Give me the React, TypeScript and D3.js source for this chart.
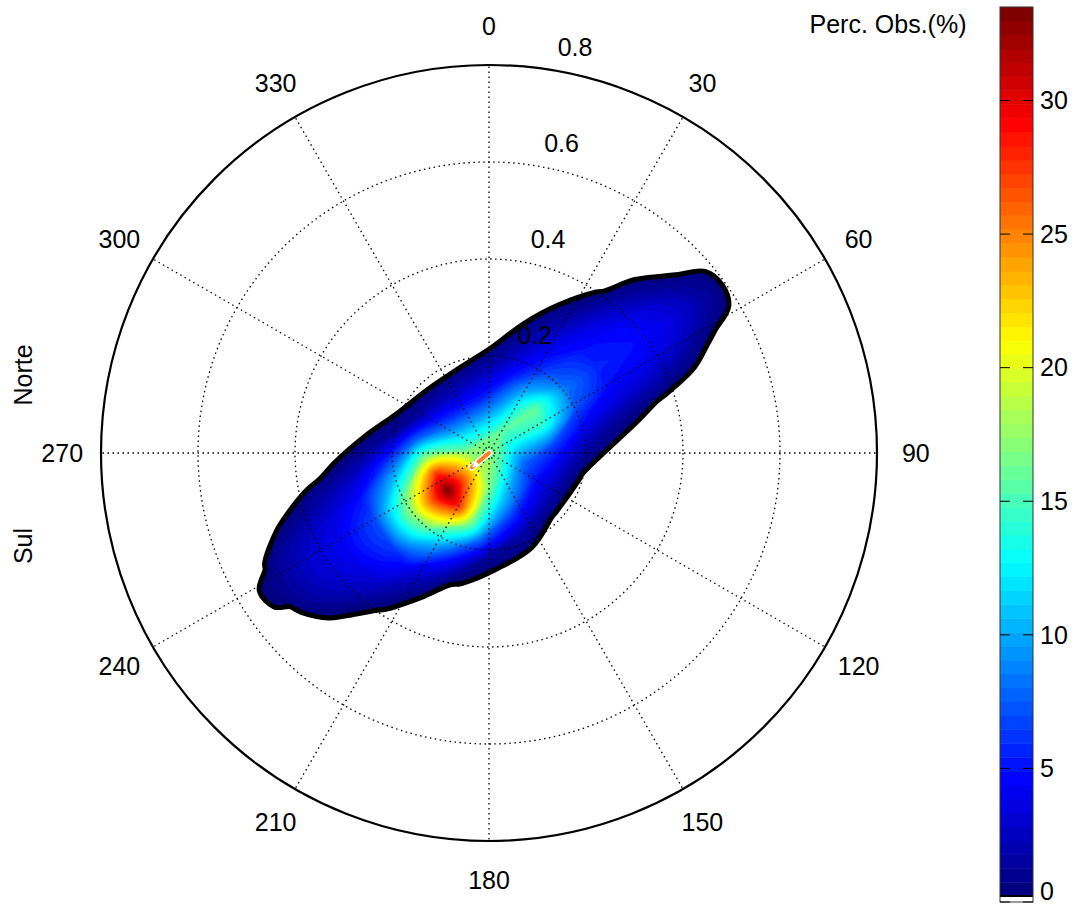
import React, { useEffect, useRef } from "react";
import * as d3 from "d3";

const width = 1079;
const height = 909;
const center = { x: 489, y: 453 };
const outerRadius = 388;
const font = "'Liberation Sans', Arial, sans-serif";
const rad = Math.PI / 180;

const rTicks = [0.2, 0.4, 0.6, 0.8];
const angleTicks = [0, 30, 60, 90, 120, 150, 180, 210, 240, 270, 300, 330];
const colorTicks = [0, 5, 10, 15, 20, 25, 30];
const colorMax = 33.5;
const colorMin = 0.22; // below this the colorbar is white

// density grid (% of obs.), u runs along the main axis of the cloud, v across it (r units)
const gridOrigin = { r: 0.115, theta: 228 }; // node u=0, v=0 sits on the main peak
const gridBearing = 56.5;
const uNodes = [-0.48, -0.4, -0.32, -0.24, -0.16, -0.08, 0, 0.08, 0.16, 0.24, 0.32, 0.4, 0.48, 0.56, 0.64, 0.72];
const vNodes = [-0.2, -0.16, -0.12, -0.08, -0.04, 0, 0.04, 0.08, 0.12, 0.16, 0.2];
const density = [
  [0, 0, 0, 0, 0, 0, 0, 0, 0, 0, 0, 0, 0, 0, 0, 0],
  [0, 0, 0, 0, 0, 0.7, 1.5, 1.8, 0.26, 0, 0, 0, 0, 0, 0, 0],
  [0, 0, 0, 0.65, 2.1, 5.0, 8.3, 6.1, 2.7, 0.57, 0, 0, 0, 0, 0, 0],
  [0, 0, 0.75, 2.5, 4.6, 10.3, 17.4, 11.2, 5.3, 3.3, 1.5, 0.75, 0.43, 0, 0, 0],
  [0, 0.15, 2.2, 3.6, 6.2, 15.8, 27.9, 16.4, 8.0, 6.8, 4.4, 3.3, 2.6, 1.4, 0, 0],
  [0, 0.75, 2.8, 4.2, 6.9, 18.4, 33.5, 19.2, 12.8, 13.8, 7.2, 4.9, 4.3, 3.3, 1.3, 0],
  [0, 0.85, 2.8, 4.1, 6.6, 16.0, 27.9, 17.2, 15.8, 16.0, 8.3, 5.6, 5.0, 3.9, 2.1, 0],
  [0, 0.35, 2.1, 3.3, 5.2, 10.6, 17.3, 11.6, 10.4, 10.4, 6.8, 5.1, 4.5, 3.2, 1.25, 0],
  [0, 0, 0.65, 1.8, 3.1, 5.6, 8.2, 6.3, 5.5, 5.4, 4.6, 3.9, 2.9, 1.3, 0, 0],
  [0, 0, 0, 0.35, 0.7, 1.1, 1.3, 2.2, 2.4, 2.1, 2.3, 1.6, 0.6, 0, 0, 0],
  [0, 0, 0, 0, 0, 0, 0, 0, 0, 0, 0.23, 0, 0, 0, 0, 0],
];

// mean direction arrow
const meanArrow = { r: 0.046, theta: 230 };

const jet = (t) => {
  const c = (x) => Math.max(0, Math.min(1, x));
  const r = c(1.5 - Math.abs(4 * t - 3));
  const g = c(1.5 - Math.abs(4 * t - 2));
  const b = c(1.5 - Math.abs(4 * t - 1));
  return d3.rgb(r * 255, g * 255, b * 255).formatHex();
};

const PolarDensity = () => {
  const ref = useRef(null);

  const chart = () => {
    const svg = d3
      .select(ref.current)
      .attr("width", width)
      .attr("height", height)
      .attr("viewBox", [0, 0, width, height])
      .style("position", "absolute")
      .style("left", 0)
      .style("top", 0)
      .style("background", "#fff")
      .style("font-family", font);
    svg.selectAll("*").remove();

    const r = d3.scaleLinear().domain([0, 0.8]).range([0, outerRadius]);
    const toXY = (rr, deg) => [
      center.x + r(rr) * Math.sin(deg * rad),
      center.y - r(rr) * Math.cos(deg * rad),
    ];

    // contour grid -> screen
    const n = uNodes.length;
    const m = vNodes.length;
    const gu = d3.scaleLinear().domain([0.5, n - 0.5]).range([uNodes[0], uNodes[n - 1]]);
    const gv = d3.scaleLinear().domain([0.5, m - 0.5]).range([vNodes[0], vNodes[m - 1]]);
    const b = gridBearing * rad;
    const ox = gridOrigin.r * Math.sin(gridOrigin.theta * rad);
    const oy = gridOrigin.r * Math.cos(gridOrigin.theta * rad);
    const project = ([gx, gy]) => {
      const u = gu(gx);
      const v = gv(gy);
      const east = ox + u * Math.sin(b) - v * Math.cos(b);
      const north = oy + u * Math.cos(b) + v * Math.sin(b);
      return [center.x + r(east), center.y - r(north)];
    };

    const nLevels = 64;
    const step = (colorMax - colorMin) / nLevels;
    const levels = d3.range(nLevels).map((k) => (k === 0 ? 0.5 : colorMin + k * step));
    const bands = d3.contours().size([n, m]).thresholds(levels)(density.flat());
    const line = d3.line().curve(d3.curveCatmullRomClosed.alpha(0.5));
    const pathOf = (geom) =>
      geom.coordinates
        .map((poly) => poly.map((ring) => line(ring.slice(0, -1).map(project))).join(""))
        .join("");

    const blob = svg.append("g");
    blob
      .append("path")
      .attr("d", pathOf(bands[0]))
      .attr("fill", "#000")
      .attr("stroke", "#000")
      .attr("stroke-width", 10)
      .attr("stroke-linejoin", "round");
    blob
      .selectAll(null)
      .data(bands)
      .join("path")
      .attr("d", (d) => pathOf(d))
      .attr("fill-rule", "evenodd")
      .attr("fill", (d, i) => jet(i / (nLevels - 1)));

    // polar grid
    const grid = svg.append("g").attr("fill", "none").attr("stroke", "#000");
    grid
      .selectAll(null)
      .data(rTicks.slice(0, -1))
      .join("circle")
      .attr("cx", center.x)
      .attr("cy", center.y)
      .attr("r", (d) => r(d))
      .attr("stroke-width", 1.3)
      .attr("stroke-dasharray", "1.5,3.5");
    grid
      .selectAll(null)
      .data(angleTicks)
      .join("line")
      .attr("x1", center.x)
      .attr("y1", center.y)
      .attr("x2", (d) => toXY(0.8, d)[0])
      .attr("y2", (d) => toXY(0.8, d)[1])
      .attr("stroke-width", 1.3)
      .attr("stroke-dasharray", "1.5,3.5");
    grid
      .append("circle")
      .attr("cx", center.x)
      .attr("cy", center.y)
      .attr("r", r(0.8))
      .attr("stroke-width", 2.2);

    // mean direction arrow
    const [ax, ay] = toXY(meanArrow.r, meanArrow.theta);
    const arrow = svg.append("g");
    arrow
      .append("line")
      .attr("x1", center.x)
      .attr("y1", center.y)
      .attr("x2", ax)
      .attr("y2", ay)
      .attr("stroke", "#fff")
      .attr("stroke-width", 6.5)
      .attr("stroke-linecap", "round");
    arrow
      .append("line")
      .attr("x1", center.x)
      .attr("y1", center.y)
      .attr("x2", ax)
      .attr("y2", ay)
      .attr("stroke", "#ff8020")
      .attr("stroke-width", 4)
      .attr("stroke-linecap", "round");
    const ang = Math.atan2(ay - center.y, ax - center.x);
    const head = [
      [ax, ay],
      [ax - 8 * Math.cos(ang - 0.45), ay - 8 * Math.sin(ang - 0.45)],
      [ax - 8 * Math.cos(ang + 0.45), ay - 8 * Math.sin(ang + 0.45)],
    ];
    arrow.append("path").attr("d", d3.line()(head) + "Z").attr("fill", "#fff");

    // labels
    const labels = svg.append("g").attr("font-size", 25).attr("fill", "#000");
    labels
      .selectAll(null)
      .data(angleTicks)
      .join("text")
      .attr("x", (d) => toXY(0.88, d)[0])
      .attr("y", (d) => toXY(0.88, d)[1])
      .attr("dy", "0.35em")
      .attr("text-anchor", "middle")
      .text((d) => d);
    labels
      .selectAll(null)
      .data(rTicks)
      .join("text")
      .attr("x", (d) => toXY(d + 0.01, 8)[0] + 14)
      .attr("y", (d) => toXY(d + 0.01, 8)[1] - 8)
      .text((d) => d);

    labels
      .append("text")
      .attr("transform", "translate(32,375) rotate(-90)")
      .attr("text-anchor", "middle")
      .text("Norte");
    labels
      .append("text")
      .attr("transform", "translate(32,546) rotate(-90)")
      .attr("text-anchor", "middle")
      .text("Sul");

    // colorbar
    const cbX = 1000;
    const cbW = 33;
    const cy = d3.scaleLinear().domain([0, colorMax]).range([902, 7]);
    const cb = svg.append("g");
    cb.selectAll(null)
      .data(d3.range(nLevels))
      .join("rect")
      .attr("x", cbX)
      .attr("width", cbW)
      .attr("y", (k) => cy(colorMin + (k + 1) * step))
      .attr("height", (k) => cy(colorMin + k * step) - cy(colorMin + (k + 1) * step) + 0.5)
      .attr("fill", (k) => jet(k / (nLevels - 1)));
    cb.append("rect")
      .attr("x", cbX)
      .attr("width", cbW)
      .attr("y", cy(colorMin))
      .attr("height", cy(0) - cy(colorMin))
      .attr("fill", "#fff");
    cb.append("line")
      .attr("x1", cbX)
      .attr("x2", cbX + cbW)
      .attr("y1", cy(colorMin))
      .attr("y2", cy(colorMin))
      .attr("stroke", "#000")
      .attr("stroke-width", 2);
    cb.append("rect")
      .attr("x", cbX)
      .attr("width", cbW)
      .attr("y", cy(colorMax))
      .attr("height", cy(0) - cy(colorMax))
      .attr("fill", "none")
      .attr("stroke", "#333")
      .attr("stroke-width", 1);
    cb.selectAll(null)
      .data(colorTicks)
      .join("path")
      .attr("d", (d) => `M${cbX},${cy(d)}h10M${cbX + cbW},${cy(d)}h-10`)
      .attr("stroke", "#000")
      .attr("stroke-width", 1);
    cb.selectAll(null)
      .data(colorTicks)
      .join("text")
      .attr("x", cbX + cbW + 7)
      .attr("y", (d) => Math.min(cy(d), 891))
      .attr("dy", "0.35em")
      .attr("font-size", 25)
      .text((d) => d);
    svg
      .append("text")
      .attr("x", 888)
      .attr("y", 33)
      .attr("text-anchor", "middle")
      .attr("font-size", 25)
      .text("Perc. Obs.(%)");
  };

  useEffect(() => {
    chart();
  }, []);

  return (
    <div>
      <svg ref={ref} />
    </div>
  );
};

export default PolarDensity;
